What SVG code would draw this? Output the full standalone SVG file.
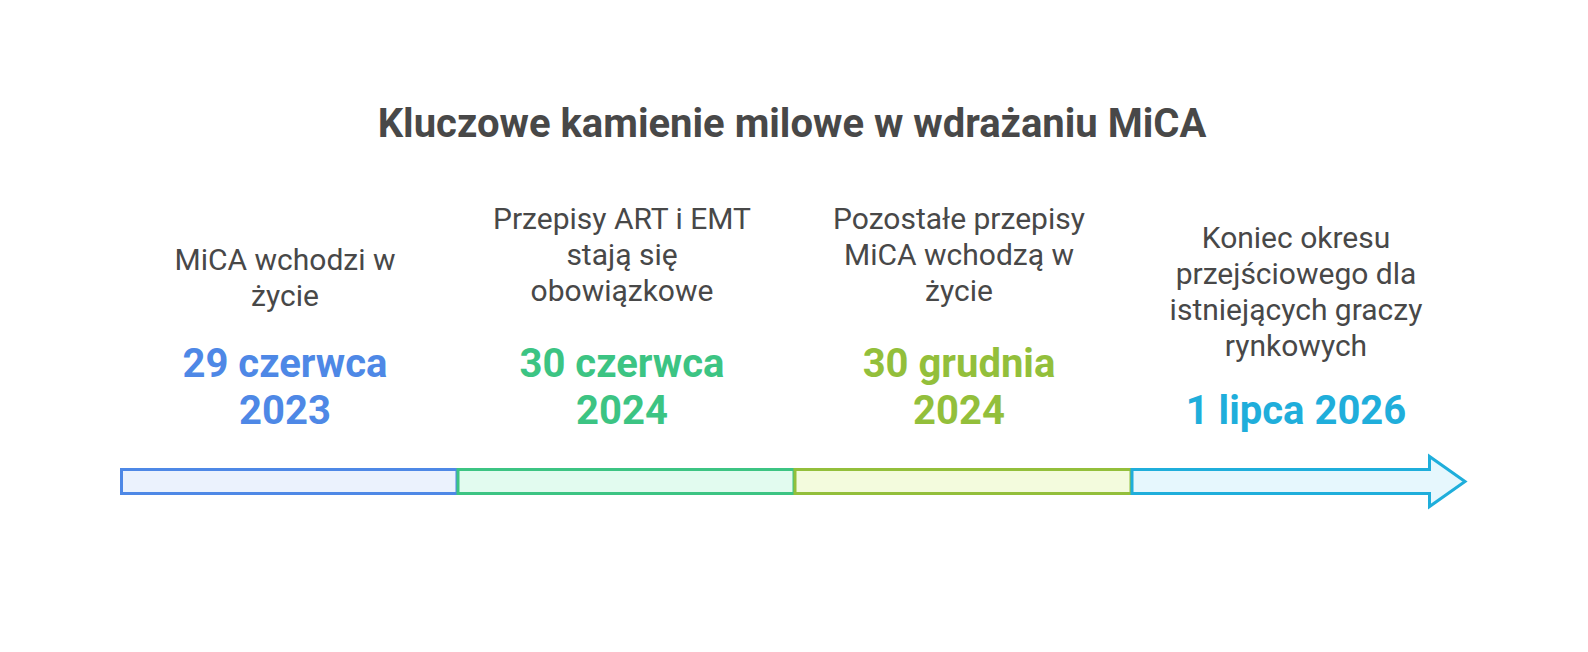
<svg xmlns="http://www.w3.org/2000/svg" width="1588" height="652" viewBox="0 0 1588 652">
<style>
.title{font-family:Roboto,"Liberation Sans",sans-serif;font-weight:700;font-size:40px;fill:#484848;text-anchor:middle}
.desc{font-family:Roboto,"Liberation Sans",sans-serif;font-size:30px;fill:#484848;text-anchor:middle}
.date{font-family:Roboto,"Liberation Sans",sans-serif;font-weight:700;font-size:40px;text-anchor:middle}
.seg{stroke-width:3;stroke-linejoin:miter}
</style>
<rect width="1588" height="652" fill="#ffffff"/>
<text class="title" x="792" y="137">Kluczowe kamienie milowe w wdrażaniu MiCA</text>
<g id="connectors">
<rect id="seg1" class="seg" x="121.5" y="469.5" width="335.5" height="24" fill="#ebf2fd" stroke="#4e88e6"/>
<rect id="seg2" class="seg" x="458" y="469.5" width="336" height="24" fill="#e2fbef" stroke="#3cc483"/>
<rect id="seg3" class="seg" x="795" y="469.5" width="336" height="24" fill="#f3fbdd" stroke="#93bf3b"/>
<path id="seg4" class="seg" d="M1132,469.5 H1429.5 V456.5 L1465,481.5 L1429.5,506.5 V493.5 H1132 Z" fill="#e6f7fd" stroke="#1faedb"/>
</g>
<g id="m1">
<text class="desc" x="285" y="270">MiCA wchodzi w</text>
<text class="desc" x="285" y="306">życie</text>
<text class="date" x="285" y="377" fill="#4e88e6">29 czerwca</text>
<text class="date" x="285" y="424" fill="#4e88e6">2023</text>
</g>
<g id="m2">
<text class="desc" x="622" y="229">Przepisy ART i EMT</text>
<text class="desc" x="622" y="265">stają się</text>
<text class="desc" x="622" y="301">obowiązkowe</text>
<text class="date" x="622" y="377" fill="#3cc483">30 czerwca</text>
<text class="date" x="622" y="424" fill="#3cc483">2024</text>
</g>
<g id="m3">
<text class="desc" x="959" y="229">Pozostałe przepisy</text>
<text class="desc" x="959" y="265">MiCA wchodzą w</text>
<text class="desc" x="959" y="301">życie</text>
<text class="date" x="959" y="377" fill="#93bf3b">30 grudnia</text>
<text class="date" x="959" y="424" fill="#93bf3b">2024</text>
</g>
<g id="m4">
<text class="desc" x="1296" y="248">Koniec okresu</text>
<text class="desc" x="1296" y="284">przejściowego dla</text>
<text class="desc" x="1296" y="320">istniejących graczy</text>
<text class="desc" x="1296" y="356">rynkowych</text>
<text class="date" x="1296" y="424" fill="#1faedb">1 lipca 2026</text>
</g>
</svg>
